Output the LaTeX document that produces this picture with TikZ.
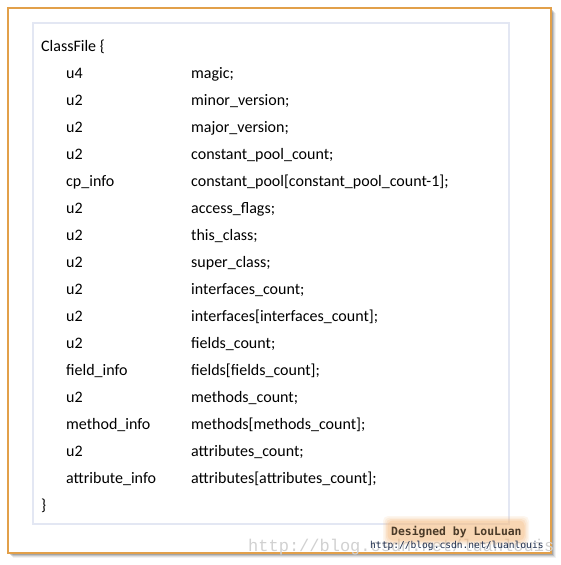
\documentclass[tikz,border=0pt]{standalone}
\usepackage{fontspec}
\setmainfont{Carlito}
\newfontfamily\wmfont{Liberation Mono}
\newfontfamily\sigfont{DejaVu Sans Mono}
\usetikzlibrary{positioning}
\definecolor{frameorange}{HTML}{E2A04A}
\definecolor{innerframe}{HTML}{E3E7F3}
\definecolor{glow}{HTML}{F6B878}
\definecolor{sigdark}{HTML}{4A3A28}
\definecolor{urlblue}{HTML}{1F2F4F}
\tikzset{
  codetext/.style={anchor=base west, inner sep=0pt, font=\fontsize{16}{18}\selectfont, text=black},
}
\begin{document}
\begin{tikzpicture}[x=1pt,y=-1pt]
\useasboundingbox (0,0) rectangle (560,565);
% shadow
\foreach \o/\a in {5/0.05,4/0.08,3/0.12,2/0.16}{
  \fill[black,opacity=\a] (8+\o,8+\o) rectangle (551+\o,553+\o);
}
% outer frame
\fill[white] (8,8) rectangle (551,553);
\draw[frameorange, line width=1.3pt] (8,8) rectangle (551,553);
% inner frame
\draw[innerframe, line width=2.5pt] (33,23) rectangle (509,524);
% code lines
\node[codetext] (l0) at (41,51) {ClassFile \{};
\foreach \i/\t/\n in {
 1/u4/magic;,
 2/u2/minor\_version;,
 3/u2/major\_version;,
 4/u2/constant\_pool\_count;,
 5/cp\_info/constant\_pool[constant\_pool\_count-1];,
 6/u2/access\_flags;,
 7/u2/this\_class;,
 8/u2/super\_class;,
 9/u2/interfaces\_count;,
 10/u2/interfaces[interfaces\_count];,
 11/u2/fields\_count;,
 12/field\_info/fields[fields\_count];,
 13/u2/methods\_count;,
 14/method\_info/methods[methods\_count];,
 15/u2/attributes\_count;,
 16/attribute\_info/attributes[attributes\_count];}{
  \node[codetext] (t\i) at (66,51+27*\i) {\t};
  \node[codetext] (n\i) at (191,51+27*\i) {\n};
}
\node[codetext] (l17) at (41,51+27*17) {\}};
% watermark
\node[anchor=base west, inner sep=0pt, font=\wmfont\fontsize{17}{17}\selectfont, text=black!18] (wm) at (248,551) {http://blog.csdn.net/luanlouis};
% glow behind signature
\foreach \g/\a in {6/0.12,4.5/0.15,3/0.2,1.5/0.25}{
  \fill[glow, opacity=\a, rounded corners=5pt] (389-\g,522-\g) rectangle (523+\g,539+\g);
}
\node[anchor=base west, inner sep=0pt, font=\sigfont\bfseries\fontsize{11.4}{12}\selectfont, text=sigdark] (sig) at (391,535) {Designed by LouLuan};
\node[anchor=base west, inner sep=0pt, font=\sigfont\fontsize{9.6}{10}\selectfont, text=urlblue] (url) at (370,548) {http://blog.csdn.net/luanlouis};
\end{tikzpicture}
\end{document}
